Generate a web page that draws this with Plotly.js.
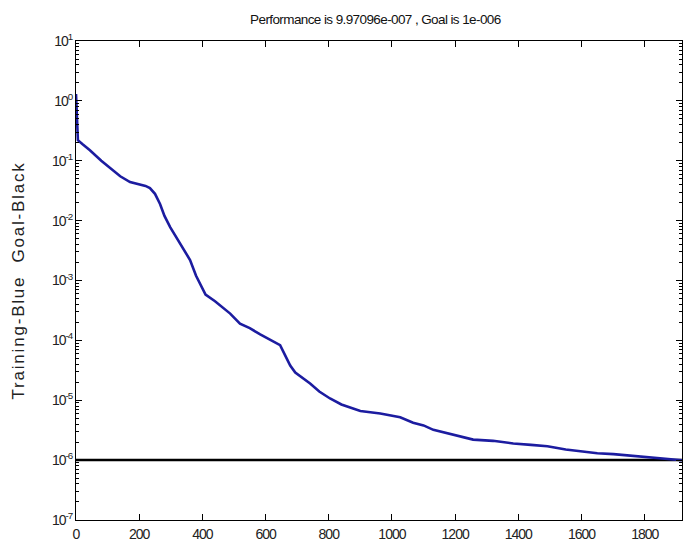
<!DOCTYPE html>
<html>
<head>
<meta charset="utf-8">
<script src="https://cdn.plot.ly/plotly-3.0.1.min.js"></script>
<style>
html,body{margin:0;padding:0;background:#fff;}
#chart{width:683px;height:548px;}
#chart .xtick text, #chart .ytick text{letter-spacing:-1px;}
#chart .gtitle{letter-spacing:-0.6px;}
#chart .ytitle{letter-spacing:1.8px;}
</style>
</head>
<body>
<div id="chart"></div>
<script>
// Training performance (epoch -> mse)
const epochs = [0, 2, 4, 6, 20, 44, 80, 108, 140, 171, 200, 220, 234, 250, 266, 280, 298, 315, 329, 345, 361, 380, 399, 410, 440, 488, 519, 550, 583, 610, 646, 662, 678, 694, 720, 741, 770, 804, 840, 868, 900, 963, 1026, 1067, 1100, 1131, 1175, 1216, 1257, 1320, 1384, 1440, 1492, 1550, 1596, 1650, 1701, 1760, 1808, 1860, 1918];
const perf = [1.3, 0.6, 0.3, 0.22, 0.19, 0.15, 0.1, 0.075, 0.055, 0.044, 0.041, 0.038, 0.035, 0.028, 0.019, 0.012, 0.0078, 0.0056, 0.0042, 0.0030, 0.0022, 0.0012, 0.00078, 0.00058, 0.00045, 0.00028, 0.00019, 0.00016, 0.000126, 0.000105, 0.000083, 0.000056, 0.000038, 0.000029, 0.000023, 0.000019, 0.000014, 0.0000107, 0.0000085, 0.0000076, 0.0000066, 0.000006, 0.0000052, 0.0000042, 0.0000038, 0.0000032, 0.0000028, 0.0000025, 0.0000022, 0.0000021, 0.0000019, 0.0000018, 0.0000017, 0.0000015, 0.0000014, 0.0000013, 0.00000126, 0.00000118, 0.00000112, 0.00000106, 0.000000997];
const goalEpochs = [0, 1918];
const goalValues = [1e-6, 1e-6];
const xTickVals = [0, 200, 400, 600, 800, 1000, 1200, 1400, 1600, 1800];
const yTickVals = [1e-7, 1e-6, 1e-5, 1e-4, 1e-3, 1e-2, 1e-1, 1, 10];
const yTickText = ['10<sup>-7</sup>', '10<sup>-6</sup>', '10<sup>-5</sup>', '10<sup>-4</sup>', '10<sup>-3</sup>', '10<sup>-2</sup>', '10<sup>-1</sup>', '10<sup>0</sup>', '10<sup>1</sup>'];
const titleText = 'Performance is 9.97096e-007 , Goal is 1e-006';
const yTitleText = 'Training-Blue  Goal-Black';

const fontFam = '"Liberation Sans", Arial, Helvetica, sans-serif';

const traces = [
  {x: goalEpochs, y: goalValues, type: 'scatter', mode: 'lines', line: {color: '#000000', width: 2.5}, hoverinfo: 'skip'},
  {x: epochs, y: perf, type: 'scatter', mode: 'lines', line: {color: '#1c1ca0', width: 2.6}}
];

const layout = {
  width: 683, height: 548,
  margin: {l: 76, r: 1, t: 41, b: 28},
  paper_bgcolor: '#ffffff', plot_bgcolor: '#ffffff',
  showlegend: false,
  font: {family: fontFam, size: 14, color: '#222222'},
  title: {text: titleText, x: 0.494, xanchor: 'center', xref: 'paper', y: 0.965, yanchor: 'middle', yref: 'container',
          font: {family: fontFam, size: 13.5, color: '#111111'}},
  xaxis: {
    range: [0, 1918], tickmode: 'array', tickvals: xTickVals,
    ticks: 'inside', ticklen: 6, tickcolor: '#000', tickwidth: 1,
    showline: true, linecolor: '#000', linewidth: 1, mirror: 'allticks',
    showgrid: false, zeroline: false, ticklabelstandoff: 1,
    tickfont: {family: fontFam, size: 14, color: '#222'}
  },
  yaxis: {
    type: 'log', range: [-7, 1], tickmode: 'array', tickvals: yTickVals, ticktext: yTickText,
    ticks: 'inside', ticklen: 6, tickcolor: '#000', tickwidth: 1,
    minor: {ticks: 'inside', ticklen: 3, dtick: 'D1', tickcolor: '#000', showgrid: false},
    showline: true, linecolor: '#000', linewidth: 1, mirror: 'allticks',
    showgrid: false, zeroline: false,
    tickfont: {family: fontFam, size: 14, color: '#222'},
    title: {text: yTitleText, standoff: 18, font: {family: fontFam, size: 17, color: '#222'}}
  }
};

Plotly.newPlot('chart', traces, layout, {displayModeBar: false, staticPlot: true});
</script>
</body>
</html>
